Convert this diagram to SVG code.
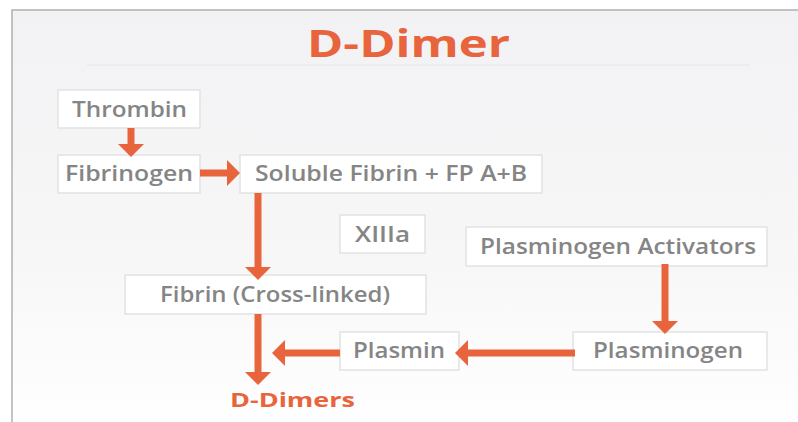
<svg xmlns="http://www.w3.org/2000/svg" width="798" height="422" viewBox="0 0 798 422">
<defs>
<linearGradient id="bg" x1="0" y1="0" x2="0" y2="1">
<stop offset="0" stop-color="#f2f2f4"/>
<stop offset="0.6" stop-color="#f7f7f8"/>
<stop offset="1" stop-color="#ffffff"/>
</linearGradient>
<marker id="ah" viewBox="0 0 13 26" refX="0" refY="13" markerWidth="1.857" markerHeight="3.714" markerUnits="strokeWidth" orient="auto" overflow="visible">
<path d="M0,0 L13,13 L0,26 Z" fill="#e8643c"/>
</marker>
</defs>
<style>
.box{fill:#ffffff;stroke:#e2e2e4;stroke-width:1.5}
.lbl{font-family:"Open Sans","Liberation Sans",sans-serif;font-weight:600;font-size:21px;fill:#858585;text-anchor:middle}
.conn{stroke:#e8643c;stroke-width:7;fill:none}
.orange{font-family:"Open Sans","Liberation Sans",sans-serif;font-weight:700;fill:#e8643c;text-anchor:middle}
</style>
<rect x="0" y="0" width="798" height="422" fill="#ffffff"/>
<rect x="12" y="10" width="800" height="420" fill="url(#bg)" stroke="#b0b0b0" stroke-width="1.5"/>
<text class="orange" x="408.5" y="57" font-size="37" textLength="203" lengthAdjust="spacingAndGlyphs">D-Dimer</text>
<line x1="87" y1="65" x2="750" y2="65" stroke="#e6e6e8" stroke-width="1"/>

<g id="thrombin"><rect class="box" x="58" y="90" width="142" height="38"/><text class="lbl" x="129.5" y="117" textLength="115" lengthAdjust="spacingAndGlyphs">Thrombin</text></g>
<g id="fibrinogen"><rect class="box" x="58" y="155" width="142" height="38"/><text class="lbl" x="129" y="181" textLength="128" lengthAdjust="spacingAndGlyphs">Fibrinogen</text></g>
<g id="soluble"><rect class="box" x="240" y="155" width="302" height="38"/><text class="lbl" x="391" y="181" textLength="272" lengthAdjust="spacingAndGlyphs">Soluble Fibrin + FP A+B</text></g>
<g id="xiiia"><rect class="box" x="340" y="215" width="85" height="38"/><text class="lbl" x="382.5" y="242" textLength="55" lengthAdjust="spacingAndGlyphs">XIIIa</text></g>
<g id="activators"><rect class="box" x="466" y="227" width="301" height="39"/><text class="lbl" x="618" y="254" textLength="276" lengthAdjust="spacingAndGlyphs">Plasminogen Activators</text></g>
<g id="fibrin"><rect class="box" x="125" y="275" width="301" height="39"/><text class="lbl" x="275" y="302" textLength="230" lengthAdjust="spacingAndGlyphs">Fibrin (Cross-linked)</text></g>
<g id="plasmin"><rect class="box" x="340" y="332" width="119" height="38"/><text class="lbl" x="399" y="358" textLength="92" lengthAdjust="spacingAndGlyphs">Plasmin</text></g>
<g id="plasminogen"><rect class="box" x="573" y="332" width="194" height="38"/><text class="lbl" x="668" y="358" textLength="150" lengthAdjust="spacingAndGlyphs">Plasminogen</text></g>
<g id="ddimers"><text class="orange" x="292.5" y="407" font-size="20" textLength="125" lengthAdjust="spacingAndGlyphs">D-Dimers</text></g>

<g id="connectors">
<line class="conn" x1="131" y1="128" x2="131" y2="144" marker-end="url(#ah)"/>
<line class="conn" x1="200" y1="173" x2="227" y2="173" marker-end="url(#ah)"/>
<line class="conn" x1="258" y1="193" x2="258" y2="267" marker-end="url(#ah)"/>
<line class="conn" x1="258" y1="314" x2="258" y2="372" marker-end="url(#ah)"/>
<line class="conn" x1="340" y1="353" x2="285" y2="353" marker-end="url(#ah)"/>
<line class="conn" x1="575" y1="353" x2="468" y2="353" marker-end="url(#ah)"/>
<line class="conn" x1="665" y1="264" x2="665" y2="321" marker-end="url(#ah)"/>
</g>
</svg>
